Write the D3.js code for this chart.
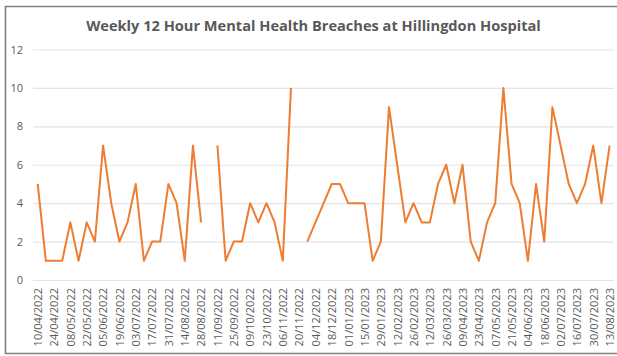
<!DOCTYPE html>
<html>
<head>
<meta charset="utf-8">
<script src="https://cdn.jsdelivr.net/npm/d3@7/dist/d3.min.js"></script>
<style>
html,body{margin:0;padding:0;background:#fff;}
svg{display:block;}
</style>
</head>
<body>
<svg id="c" width="617" height="356"></svg>
<script>
const title = "Weekly 12 Hour Mental Health Breaches at Hillingdon Hospital";
const tickLabels = ["10/04/2022","24/04/2022","08/05/2022","22/05/2022","05/06/2022","19/06/2022","03/07/2022","17/07/2022","31/07/2022","14/08/2022","28/08/2022","11/09/2022","25/09/2022","09/10/2022","23/10/2022","06/11/2022","20/11/2022","04/12/2022","18/12/2022","01/01/2023","15/01/2023","29/01/2023","12/02/2023","26/02/2023","12/03/2023","26/03/2023","09/04/2023","23/04/2023","07/05/2023","21/05/2023","04/06/2023","18/06/2023","02/07/2023","16/07/2023","30/07/2023","13/08/2023"];
const values = [5,1,1,1,3,1,3,2,7,4,2,3,5,1,2,2,5,4,1,7,3,null,7,1,2,2,4,3,4,3,1,10,null,2,3,4,5,5,4,4,4,1,2,9,6,3,4,3,3,5,6,4,6,2,1,3,4,10,5,4,1,5,2,9,7,5,4,5,7,4,7];
const yTicks = [0,2,4,6,8,10,12];

const svg = d3.select("#c");
const font = "'Open Sans', 'Liberation Sans', sans-serif";
const grey = "#595959";

// border
svg.append("path").attr("d","M617,6.5 H5.5 V353.5 H617").attr("fill","none").attr("stroke","#808080").attr("stroke-width",1.6);

const x = d3.scaleLinear().domain([0, values.length-1]).range([37.7, 609.6]);
const y = d3.scaleLinear().domain([0, 12]).range([280, 49.5]);

// gridlines + y axis
const ya = svg.append("g").attr("transform","translate(33,0)")
  .call(d3.axisLeft(y).tickValues(yTicks).tickSize(-(613.7-33)).tickPadding(10));
ya.select(".domain").remove();
ya.selectAll(".tick line").attr("stroke","#e3e3e3").attr("stroke-width",1.2);
ya.selectAll(".tick text").attr("fill",grey).attr("font-family",font).attr("font-size",11);

// x axis
const xa = svg.append("g").attr("transform","translate(0,280)")
  .call(d3.axisBottom(x).tickValues(tickLabels.map((d,i)=>i*2)).tickFormat((d)=>tickLabels[d/2]).tickSize(0));
xa.select(".domain").remove();
xa.selectAll(".tick text")
  .attr("fill",grey).attr("font-family",font).attr("font-size",11)
  .attr("text-anchor","end").attr("transform","rotate(-90)")
  .attr("x",-8).attr("y",0).attr("dy","0.35em");

// line
const line = d3.line().defined(d=>d!=null).x((d,i)=>x(i)).y(d=>y(d));
svg.append("path").datum(values).attr("d",line)
  .attr("fill","none").attr("stroke","#ED7D31").attr("stroke-width",2).attr("stroke-linejoin","round");

// title
const t = svg.append("text").text(title).attr("x",313.5).attr("y",30.5)
  .attr("text-anchor","middle").attr("font-family",font).attr("font-weight","bold")
  .attr("font-size",16).attr("fill",grey);
const w = t.node().getComputedTextLength();
t.attr("font-size", 16*455/w);
</script>
</body>
</html>
